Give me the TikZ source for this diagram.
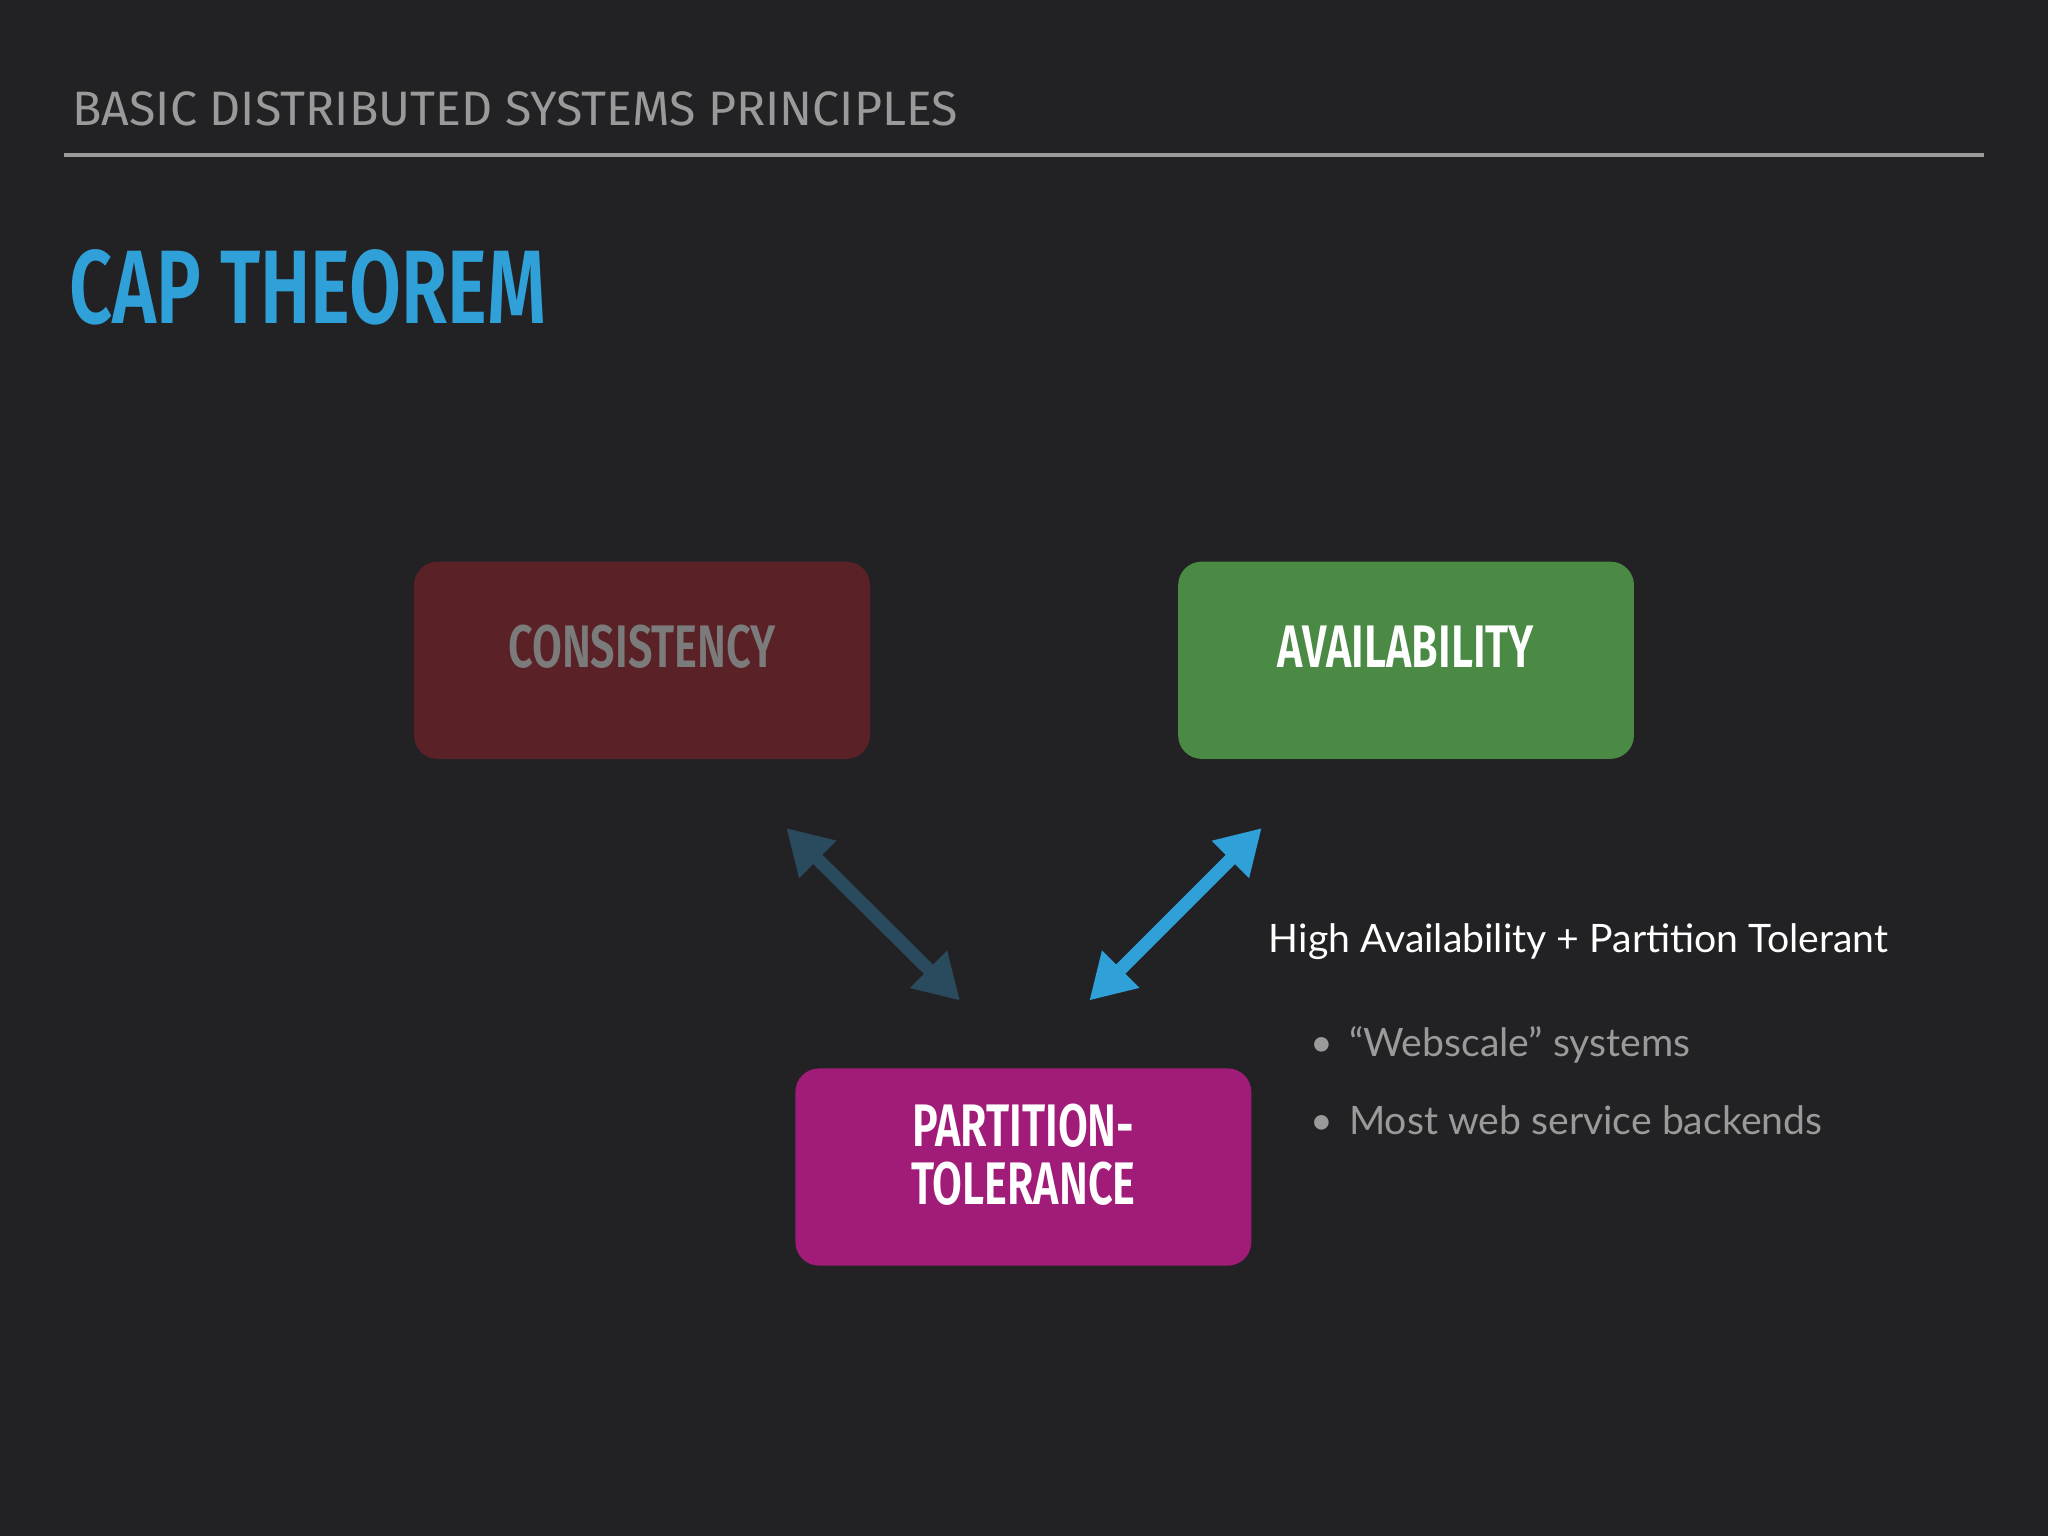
\documentclass[tikz,border=0pt]{standalone}
\usepackage{fontspec}
\setmainfont{Lato}
\newfontfamily\headfont{Fira Sans}
\newfontfamily\condfont[FakeStretch=0.72]{Fira Sans SemiBold}
\usetikzlibrary{arrows.meta}
\definecolor{bg}{HTML}{222224}
\definecolor{hgray}{HTML}{9A9A9A}
\definecolor{capblue}{HTML}{2FA0D8}
\definecolor{cred}{HTML}{5A2227}
\definecolor{agreen}{HTML}{4A8A45}
\definecolor{pmag}{HTML}{A01C78}
\definecolor{darr}{HTML}{2A4A5E}
\tikzset{
  box/.style={rounded corners=18pt,minimum width=349pt,minimum height=151pt,inner sep=0pt},
  boxlabel/.style={font=\condfont\fontsize{46}{44}\selectfont,align=center},
  bigarrow/.style={line width=10pt,{Triangle[length=34pt,width=38pt]}-{Triangle[length=34pt,width=38pt]}},
  bullet/.style={anchor=west,text=hgray,font=\fontsize{30}{36}\selectfont}
}
\begin{document}
\begin{tikzpicture}[x=1pt,y=-1pt]
\fill[bg] (0,0) rectangle (1568,1176);
\useasboundingbox (0,0) rectangle (1568,1176);
\node[anchor=west,text=hgray,font=\headfont\fontsize{37}{40}\selectfont] (hdr) at (52,83) {BASIC DISTRIBUTED SYSTEMS PRINCIPLES};
\coordinate (l1) at (49,119); \coordinate (l2) at (1519,119);
\draw[hgray,line width=3pt] (l1) -- (l2);
\node[anchor=west,text=capblue,font=\condfont\fontsize{80}{80}\selectfont] (title) at (50,220) {CAP THEOREM};
\node[box,fill=cred] (c) at (491.5,505.5) {};
\node[boxlabel,text=hgray!80!black] (ct) at (491.5,495) {CONSISTENCY};
\node[box,fill=agreen] (a) at (1076.5,505.5) {};
\node[boxlabel,text=white] (at) at (1076.5,495) {AVAILABILITY};
\node[box,fill=pmag] (p) at (783.5,893.5) {};
\node[boxlabel,text=white] (pt) at (783.5,884) {PARTITION-\\TOLERANCE};
\coordinate (d1) at (602,634); \coordinate (d2) at (735,766);
\draw[bigarrow,darr] (d1) -- (d2);
\coordinate (b1) at (966,634); \coordinate (b2) at (834,766);
\draw[bigarrow,capblue] (b1) -- (b2);
\node[anchor=west,text=white,font=\fontsize{30}{36}\selectfont] (hapt) at (968,721) {High Availability + Partition Tolerant};
\node[bullet] (b1t) at (1000,800) {\textbullet\hspace{12pt}“Webscale” systems};
\node[bullet] (b2t) at (1000,858) {\textbullet\hspace{12pt}Most web service backends};
\end{tikzpicture}
\end{document}
